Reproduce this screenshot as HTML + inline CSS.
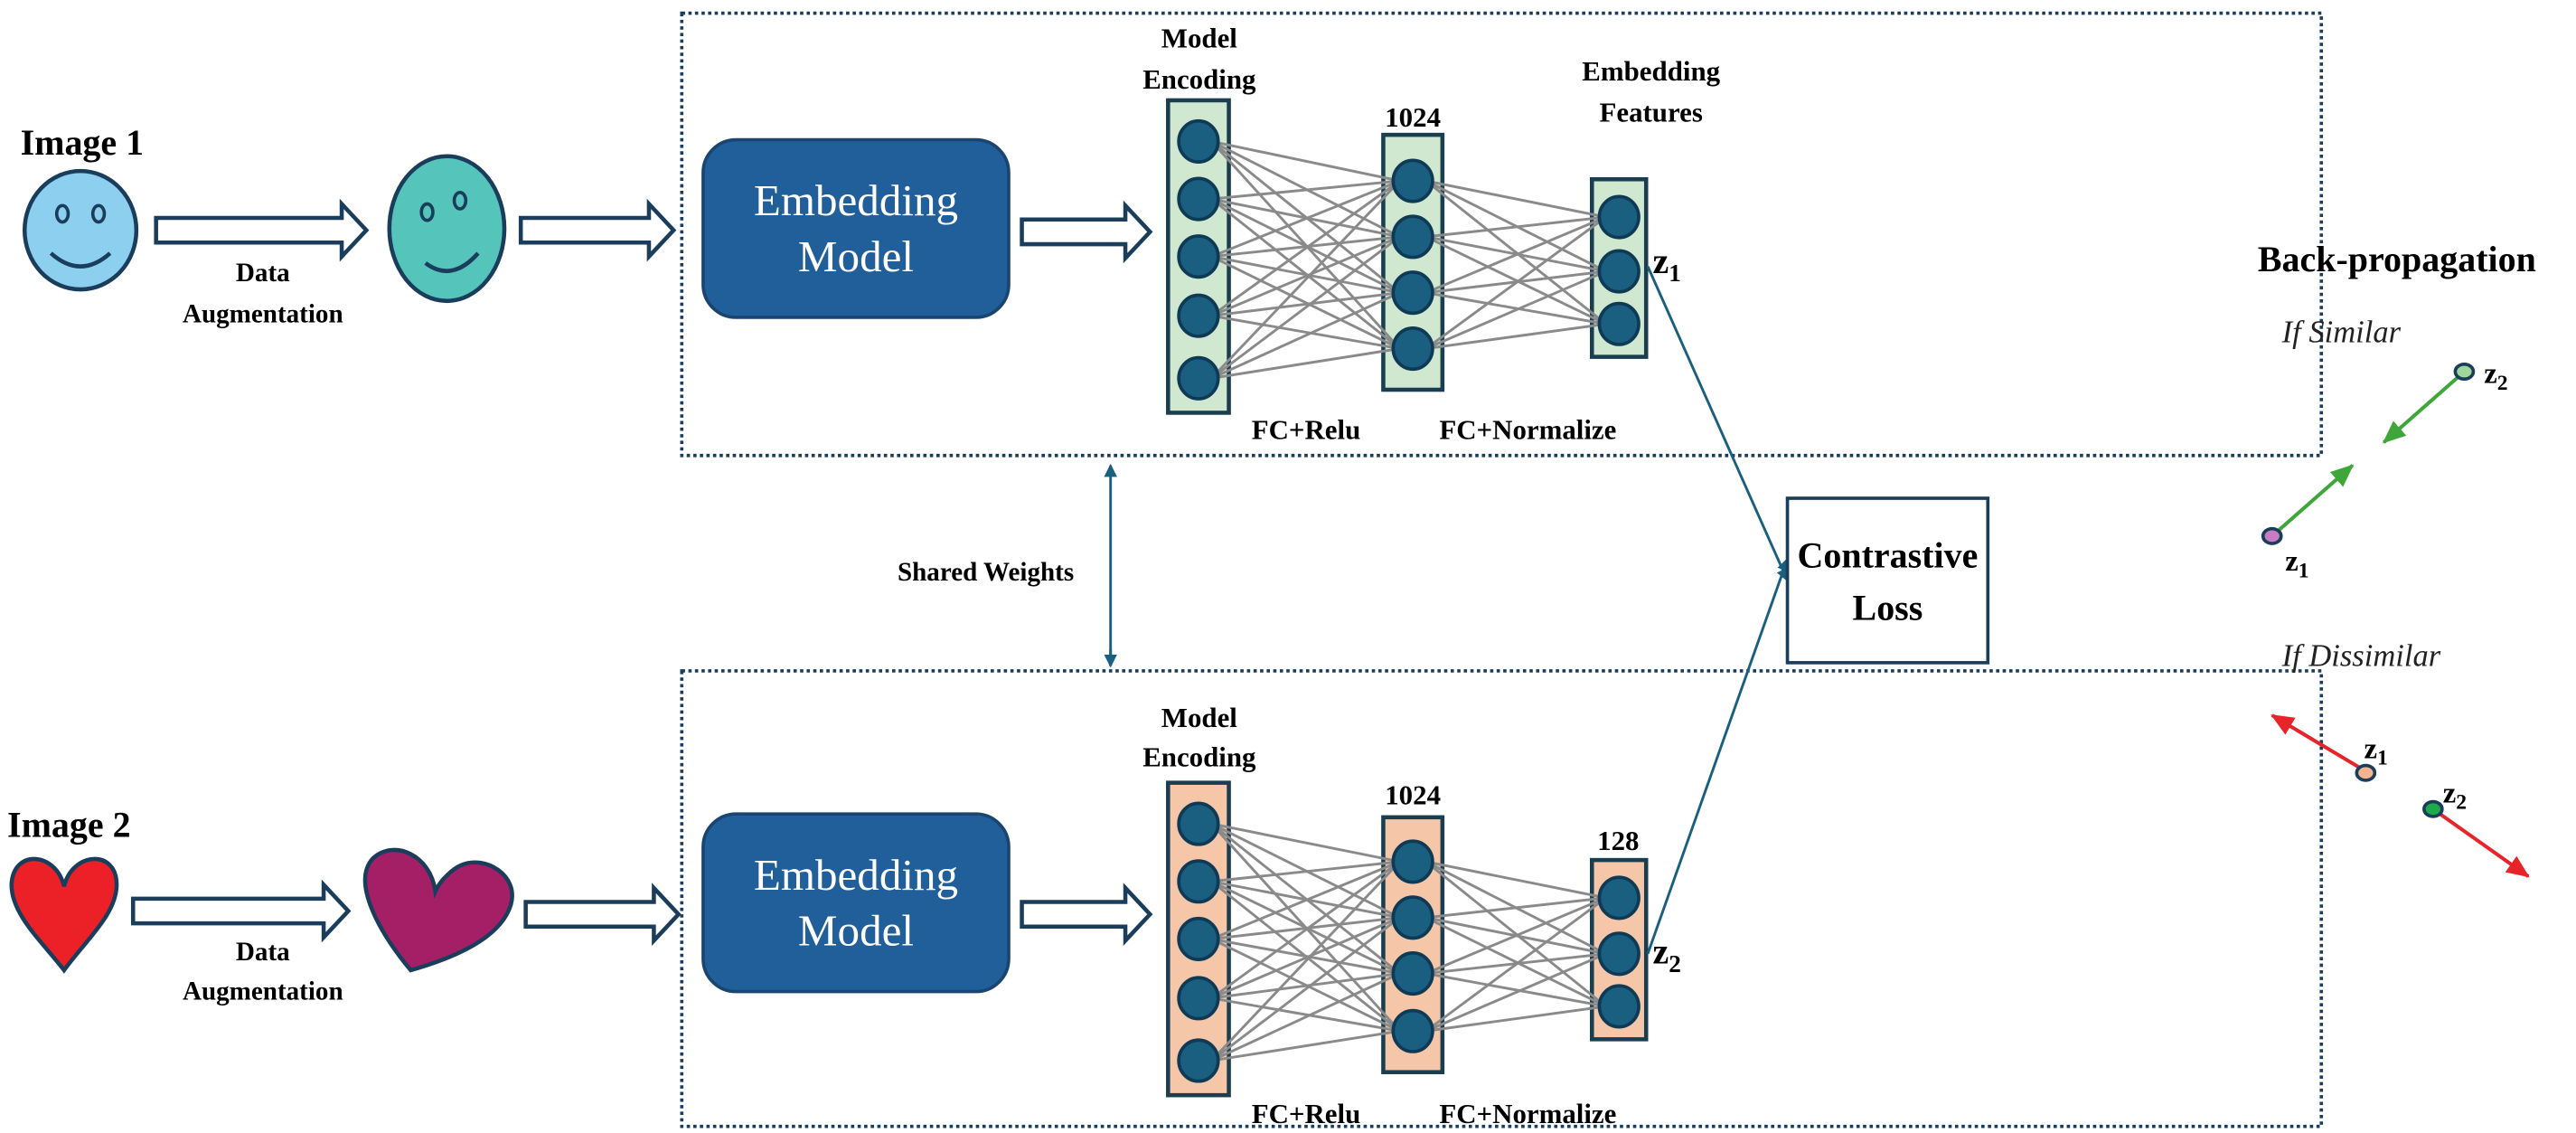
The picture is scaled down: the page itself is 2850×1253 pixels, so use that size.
<!DOCTYPE html>
<html><head><meta charset="utf-8">
<style>html,body{margin:0;padding:0;background:#fff;}svg{display:block}</style>
</head><body>
<svg id="s" xmlns="http://www.w3.org/2000/svg" width="2850" height="1253" viewBox="0 0 1568 689" preserveAspectRatio="none" font-family="'Liberation Serif', serif">
<defs>
<marker id="ab" markerWidth="8" markerHeight="8" refX="7" refY="4" orient="auto" markerUnits="userSpaceOnUse"><path d="M0,0 L8,4 L0,8 z" fill="#1a5e80"/></marker>
<marker id="ag" markerWidth="14" markerHeight="12" refX="13" refY="6" orient="auto" markerUnits="userSpaceOnUse"><path d="M0,0 L14,6 L0,12 z" fill="#3fa63a"/></marker>
<marker id="ar" markerWidth="14" markerHeight="12" refX="13" refY="6" orient="auto" markerUnits="userSpaceOnUse"><path d="M0,0 L14,6 L0,12 z" fill="#e8232a"/></marker>
</defs>
<rect width="1568" height="689" fill="#fff"/>
<rect x="415" y="8" width="998" height="269" fill="none" stroke="#1a3d5c" stroke-width="2" stroke-dasharray="2,2"/>
<rect x="415" y="408" width="998" height="277" fill="none" stroke="#1a3d5c" stroke-width="2" stroke-dasharray="2,2"/>

<g font-weight="bold" fill="#000" text-anchor="middle">
<text x="50" y="94" font-size="22">Image 1</text>
<text x="42" y="509" font-size="22">Image 2</text>
<text x="160" y="171" font-size="16">Data</text>
<text x="160" y="196" font-size="16">Augmentation</text>
<text x="160" y="584" font-size="16">Data</text>
<text x="160" y="608" font-size="16">Augmentation</text>
<text x="730" y="29" font-size="17">Model</text>
<text x="730" y="54" font-size="17">Encoding</text>
<text x="860" y="77" font-size="17">1024</text>
<text x="1005" y="49" font-size="17">Embedding</text>
<text x="1005" y="74" font-size="17">Features</text>
<text x="795" y="267" font-size="17">FC+Relu</text>
<text x="930" y="267" font-size="17">FC+Normalize</text>
<text x="730" y="442" font-size="17">Model</text>
<text x="730" y="466" font-size="17">Encoding</text>
<text x="860" y="489" font-size="17">1024</text>
<text x="985" y="517" font-size="17">128</text>
<text x="795" y="683" font-size="17">FC+Relu</text>
<text x="930" y="683" font-size="17">FC+Normalize</text>
<text x="600" y="353" font-size="16">Shared Weights</text>
<text x="1459" y="165" font-size="22">Back-propagation</text>
</g>
<g font-weight="bold" fill="#000" font-size="22">
<text x="1006" y="166">z<tspan font-size="15" dy="5">1</tspan></text>
<text x="1006" y="586">z<tspan font-size="15" dy="5">2</tspan></text>
<text x="1512" y="233" font-size="18">z<tspan font-size="13" dy="4">2</tspan></text>
<text x="1391" y="347" font-size="18">z<tspan font-size="13" dy="4">1</tspan></text>
<text x="1439" y="461" font-size="18">z<tspan font-size="13" dy="4">1</tspan></text>
<text x="1487" y="488" font-size="18">z<tspan font-size="13" dy="4">2</tspan></text>
</g>
<g font-style="italic" font-size="19" fill="#222">
<text x="1389" y="208">If Similar</text>
<text x="1389" y="405">If Dissimilar</text>
</g>

<ellipse cx="49" cy="140" rx="34" ry="36" fill="#8ccfee" stroke="#1a3d5c" stroke-width="2.5"/>
<ellipse cx="38" cy="130" rx="3.5" ry="5" fill="none" stroke="#1a3d5c" stroke-width="2"/>
<ellipse cx="60" cy="130" rx="3.5" ry="5" fill="none" stroke="#1a3d5c" stroke-width="2"/>
<path d="M31,154 Q49,170 67,154" fill="none" stroke="#1a3d5c" stroke-width="2.5"/>
<ellipse cx="272" cy="139" rx="35" ry="44" fill="#55c4bb" stroke="#1a3d5c" stroke-width="2.5"/>
<ellipse cx="260" cy="129" rx="3.5" ry="5" fill="none" stroke="#1a3d5c" stroke-width="2"/>
<ellipse cx="280" cy="122" rx="3.5" ry="5" fill="none" stroke="#1a3d5c" stroke-width="2"/>
<path d="M259,160 Q275,172 291,154" fill="none" stroke="#1a3d5c" stroke-width="2.5"/>
<path d="M39,539 C34,518 8,516 7,538 C7,556 25,572 39,590 C52,572 71,556 71,538 C71,516 44,518 39,539 Z" fill="#ec2027" stroke="#1a3d5c" stroke-width="2.5"/>
<path d="M265,542 C262,520 240,510 227,522 C214,536 230,566 250,590 C278,582 305,570 311,550 C316,532 295,520 281,526 C276,528 268,535 265,542 Z" fill="#a51f67" stroke="#1a3d5c" stroke-width="2.5"/>

<g fill="#fff" stroke="#1a3d5c" stroke-width="2.5" id="harrows"></g>

<rect x="428" y="85" width="186" height="108" rx="20" fill="#215f9a" stroke="#1a4570" stroke-width="2"/>
<rect x="428" y="495" width="186" height="108" rx="20" fill="#215f9a" stroke="#1a4570" stroke-width="2"/>
<g fill="#fff" font-size="27" text-anchor="middle">
<text x="521" y="131">Embedding</text><text x="521" y="165">Model</text>
<text x="521" y="541">Embedding</text><text x="521" y="575">Model</text>
</g>

<g id="nets"></g>

<line x1="1003" y1="162" x2="1088" y2="353" stroke="#1a5e80" stroke-width="1.6" marker-end="url(#ab)"/>
<line x1="1003" y1="580" x2="1088" y2="340" stroke="#1a5e80" stroke-width="1.6" marker-end="url(#ab)"/>
<line x1="676" y1="290" x2="676" y2="283" stroke="#1a5e80" stroke-width="1.6" marker-end="url(#ab)"/>
<line x1="676" y1="290" x2="676" y2="400" stroke="#1a5e80" stroke-width="1.6"/>
<line x1="676" y1="395" x2="676" y2="405" stroke="#1a5e80" stroke-width="1.6" marker-end="url(#ab)"/>
<rect x="1088" y="303" width="122" height="100" fill="#fff" stroke="#1a3d5c" stroke-width="2"/>
<text x="1149" y="345" font-size="22" font-weight="bold" text-anchor="middle">Contrastive</text>
<text x="1149" y="377" font-size="22" font-weight="bold" text-anchor="middle">Loss</text>

<line x1="1500" y1="226" x2="1451" y2="269" stroke="#3fa63a" stroke-width="2.2" marker-end="url(#ag)"/>
<line x1="1383" y1="326" x2="1432" y2="283" stroke="#3fa63a" stroke-width="2.2" marker-end="url(#ag)"/>
<ellipse cx="1500" cy="226" rx="5.5" ry="4.5" fill="#9fd69a" stroke="#1a3d5c" stroke-width="2"/>
<ellipse cx="1383" cy="326" rx="5.5" ry="4.5" fill="#c77dc0" stroke="#1a3d5c" stroke-width="2"/>
<line x1="1440" y1="469" x2="1383" y2="435" stroke="#e8232a" stroke-width="2.2" marker-end="url(#ar)"/>
<line x1="1481" y1="492" x2="1539" y2="533" stroke="#e8232a" stroke-width="2.2" marker-end="url(#ar)"/>
<ellipse cx="1440" cy="470" rx="5.5" ry="4.5" fill="#f5b48e" stroke="#1a3d5c" stroke-width="2"/>
<ellipse cx="1481" cy="492" rx="5.5" ry="4.5" fill="#1faa4a" stroke="#1a3d5c" stroke-width="2"/>
</svg>
<script>
(function(){
var NS="http://www.w3.org/2000/svg";
function el(p,t,a){var e=document.createElementNS(NS,t);for(var k in a)e.setAttribute(k,a[k]);p.appendChild(e);return e;}
var ha=document.getElementById("harrows");
function arrow(x0,x1,c){var p=[[x0,c-7.5],[x1-15,c-7.5],[x1-15,c-16],[x1,c],[x1-15,c+16],[x1-15,c+7.5],[x0,c+7.5]];
el(ha,"polygon",{points:p.map(function(q){return q.join(",")}).join(" ")});}
arrow(95,223,140);arrow(317,410,140);arrow(622,700,141);
arrow(81,212,554);arrow(320,413,556);arrow(622,700,556);
var g=document.getElementById("nets");
function net(fill,r1,n1,r2,n2,r3,n3){
 var L=[[711,748,r1,n1],[842,878,r2,n2],[969,1002,r3,n3]];
 L.forEach(function(l){el(g,"rect",{x:l[0],y:l[2][0],width:l[1]-l[0],height:l[2][1]-l[2][0],fill:fill,stroke:"#1a3d4f","stroke-width":2.5});});
 for(var i=0;i<2;i++){var a=L[i],b=L[i+1];
  a[3].forEach(function(y1){b[3].forEach(function(y2){el(g,"line",{x1:(a[0]+a[1])/2+8,y1:y1,x2:(b[0]+b[1])/2-8,y2:y2,stroke:"#8a8a8a","stroke-width":1.6});});});}
 L.forEach(function(l){l[3].forEach(function(y){el(g,"ellipse",{cx:(l[0]+l[1])/2,cy:y,rx:12,ry:12.5,fill:"#1a5e80",stroke:"#0f3a55","stroke-width":2});});});
}
net("#cfe8cf",[61,251],[86,121,156,192,230],[82,237],[110,144,178,212],[109,217],[132,165,197]);
net("#f5c6a8",[476,666],[501,536,571,607,645],[497,652],[524,558,592,627],[523,632],[546,580,612]);
})();
</script>
</body></html>
